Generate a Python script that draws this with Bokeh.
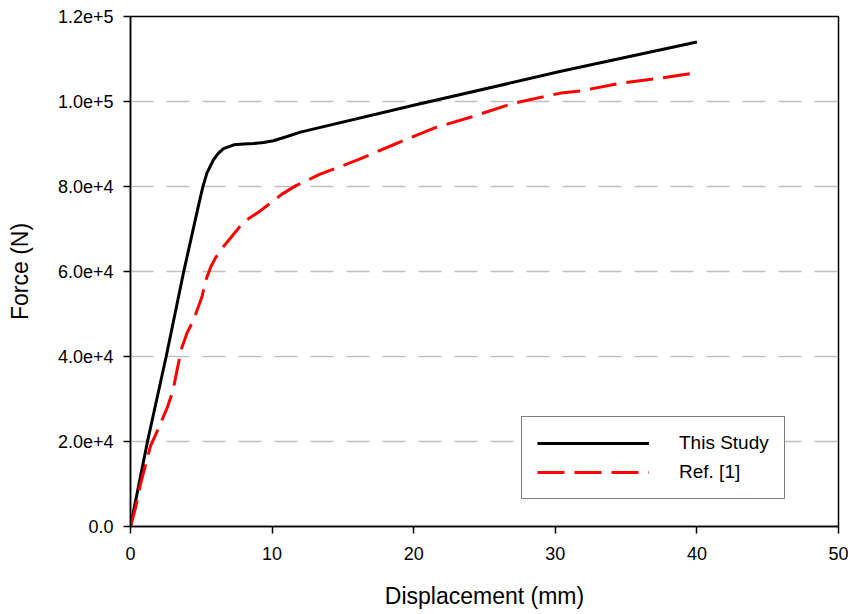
from bokeh.plotting import figure
from bokeh.models import (Range1d, SingleIntervalTicker, CustomJSTickFormatter,
                          Legend, LegendItem, ColumnDataSource)
from bokeh.embed import file_html
from bokeh.resources import INLINE

# ---- data ----
study_disp = [0, 1.2, 2.52, 3.76, 4.8, 5.1, 5.4, 5.86, 6.2, 6.57, 7.3, 8.0,
              8.7, 9.4, 10.1, 11.0, 12.0, 20.0, 30.4, 40.0]
study_force = [0, 20000, 40000, 60000, 75500, 79800, 83200, 86300, 87800,
               88900, 89800, 90000, 90100, 90350, 90760, 91700, 92800, 99100,
               107100, 114000]

ref_disp = [0, 0.35, 0.7, 1.41, 1.88, 2.59, 3.0, 3.3, 3.6, 4.0, 4.47, 5.06,
            5.3, 5.65, 6.0, 6.6, 8.0, 9.06, 10.7, 11.65, 13.4, 16.0, 18.7,
            21.4, 24.0, 27.07, 28.95, 30.4, 31.8, 34.6, 37.2, 39.8]
ref_force = [0, 4300, 9900, 18900, 22400, 27900, 32000, 37000, 41800, 45600,
             48700, 54200, 57800, 60900, 63200, 66000, 71700, 74000, 78200,
             80150, 82900, 86200, 90000, 93700, 96300, 99600, 100970, 102000,
             102500, 104300, 105400, 106700]

series_names = ["This Study", "Ref. [1]"]
x_title = "Displacement (mm)"
y_title = "Force (N)"

FONT = "Liberation Sans"

p = figure(frame_width=708, frame_height=510,
           min_border_left=130, min_border_right=10,
           min_border_top=16, min_border_bottom=88,
           x_range=Range1d(0, 50), y_range=Range1d(0, 120000),
           output_backend="svg", toolbar_location=None)

p.background_fill_color = "white"
p.border_fill_color = "white"
p.outline_line_color = "black"
p.outline_line_width = 1.5

# axes
for ax in (p.xaxis[0], p.yaxis[0]):
    ax.axis_line_color = "black"
    ax.axis_line_width = 1.5
    ax.major_tick_line_color = "black"
    ax.major_tick_line_width = 1.5
    ax.major_tick_out = 7
    ax.major_tick_in = 0
    ax.minor_tick_line_color = None
    ax.major_label_text_font = FONT
    ax.major_label_text_font_size = "18px"
    ax.major_label_text_color = "black"
    ax.axis_label_text_font = FONT
    ax.axis_label_text_font_size = "23px"
    ax.axis_label_text_font_style = "normal"
    ax.axis_label_text_color = "black"

p.xaxis.ticker = SingleIntervalTicker(interval=10, num_minor_ticks=0)
p.yaxis.ticker = SingleIntervalTicker(interval=20000, num_minor_ticks=0)
p.yaxis.formatter = CustomJSTickFormatter(code="""
    if (tick == 0) { return "0.0"; }
    return tick.toExponential(1);
""")
p.xaxis.formatter = CustomJSTickFormatter(code="return tick.toFixed(0);")
p.xaxis.axis_label = x_title
p.yaxis.axis_label = y_title
p.xaxis.major_label_standoff = 13
p.xaxis.axis_label_standoff = 20
p.yaxis.major_label_standoff = 10
p.yaxis.axis_label_standoff = 22

# grid
p.xgrid.grid_line_color = None
p.ygrid.grid_line_color = "#c0c0c0"
p.ygrid.grid_line_width = 1.5
p.ygrid.grid_line_dash = "23 13"

src_study = ColumnDataSource(dict(x=study_disp, y=study_force))
src_ref = ColumnDataSource(dict(x=ref_disp, y=ref_force))

r_study = p.line("x", "y", source=src_study, line_color="black", line_width=3)
r_ref = p.line("x", "y", source=src_ref, line_color="#ff0000", line_width=3,
               line_dash="27 10")

legend = Legend(items=[LegendItem(label=series_names[0], renderers=[r_study]),
                       LegendItem(label=series_names[1], renderers=[r_ref])],
                location=(391, 27))
legend.glyph_width = 112
legend.glyph_height = 20
legend.label_height = 20
legend.label_standoff = 30
legend.spacing = 7
legend.padding = 15
legend.margin = 0
legend.border_line_color = "black"
legend.border_line_width = 1.5
legend.background_fill_color = "white"
legend.background_fill_alpha = 1.0
legend.label_text_font = FONT
legend.label_text_font_size = "19px"
legend.label_text_color = "black"
p.add_layout(legend, "center")

open("out.html", "w").write(file_html(p, INLINE))
